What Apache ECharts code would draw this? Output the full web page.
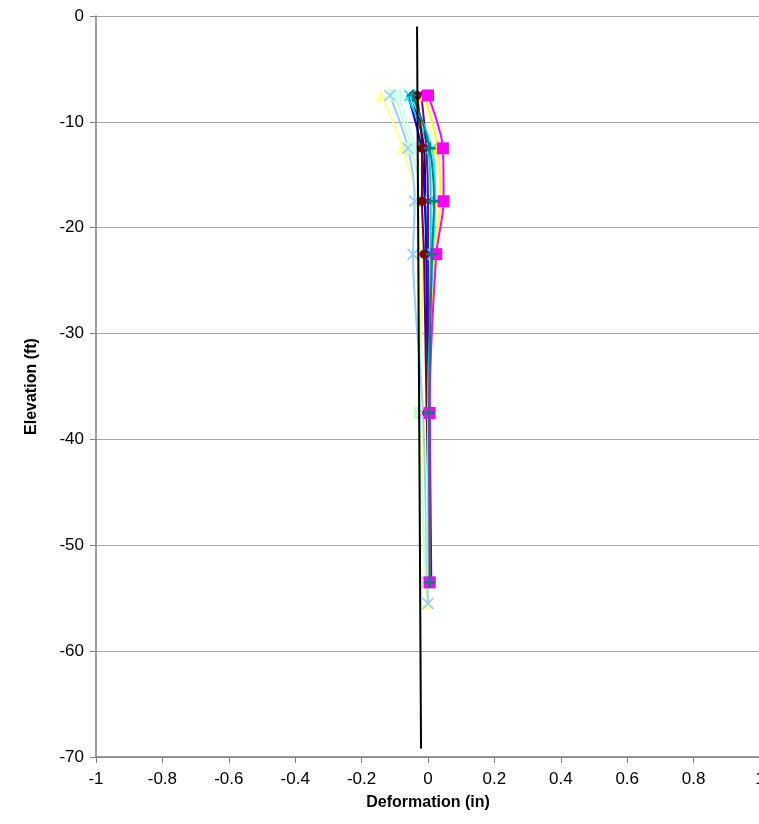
<!DOCTYPE html>
<html>
<head>
<meta charset="utf-8">
<script src="https://cdn.jsdelivr.net/npm/echarts@6/dist/echarts.min.js"></script>
<style>
html,body{margin:0;padding:0;background:#fff;}
#chart{width:759px;height:824px;}
</style>
</head>
<body>
<div id="chart"></div>
<script>
// Elevations (ft) of the readings
var depths = [-7.5, -12.5, -17.5, -22.5, -37.5, -53.5];
var depthsLong = [-7.5, -12.5, -17.5, -22.5, -37.5, -53.5, -55.5];
// Reference (initial) casing line
var refX = [-0.033, -0.021];
var refY = [-1, -69.2];
// Deformation (in) per reading
var s1 = [-0.05, -0.012, -0.008, -0.006, 0.0, 0.005];
var s2 = [0.0, 0.045, 0.047, 0.025, 0.005, 0.005];
var s3 = [-0.01, 0.03, 0.037, 0.022, 0.002, 0.0];
var s4 = [-0.055, 0.012, 0.022, 0.015, 0.0, 0.005];
var s5 = [-0.02, -0.005, 0.0, 0.0, 0.005, 0.01];
var s6 = [-0.033, -0.018, -0.018, -0.012, -0.004, 0.008];
var s7 = [-0.045, 0.005, 0.018, 0.012, 0.003, 0.005];
var s8 = [-0.06, -0.02, -0.01, -0.005, 0.0, 0.005];
var s9 = [-0.065, 0.0, 0.008, 0.008, 0.0, 0.0];
var s10 = [-0.09, -0.04, -0.01, -0.01, -0.005, 0.0];
var s11 = [-0.1, -0.05, -0.02, -0.015, -0.025, -0.005];
var s12 = [-0.14, -0.075, -0.035, -0.025, -0.02, -0.01, 0.0];
var s13 = [-0.115, -0.06, -0.04, -0.045, -0.015, -0.002, 0.0];

var X = 'path://M0,1L1,0L5,4L9,0L10,1L6,5L10,9L9,10L5,6L1,10L0,9L4,5Z';
var PLUS = 'path://M4,0H6V4H10V6H6V10H4V6H0V4H4Z';
var STAR = 'path://M0,1L1,0L4.3,3.3V0H5.7V3.3L9,0L10,1L6,5L10,9L9,10L5.7,6.7V10H4.3V6.7L1,10L0,9L4,5Z';

function pairs(xs, ys){ return xs.map(function(v,i){ return [v, ys[i]]; }); }

var defs = [
  {d:s1, y:depths, c:'#000080', s:'diamond', z:3, size:9},
  {d:s8, y:depths, c:'#0000FF', s:'none', z:4},
  {d:s9, y:depths, c:'#00CCFF', s:'none', z:4},
  {d:s11, y:depths, c:'#CCFFCC', s:'rect', z:2},
  {d:s10, y:depths, c:'#CCFFFF', s:'diamond', z:3},
  {d:s12, y:depthsLong, c:'#FFFF99', s:'triangle', z:1},
  {d:s13, y:depthsLong, c:'#99CCFF', s:X, z:2},
  {d:s6, y:depths, c:'#800000', s:'circle', z:6, size:9},
  {d:s4, y:depths, c:'#00FFFF', s:X, z:7},
  {d:s3, y:depths, c:'#FFFF00', s:'triangle', z:8},
  {d:s2, y:depths, c:'#FF00FF', s:'rect', z:8},
  {d:s7, y:depths, c:'#008080', s:PLUS, z:9},
  {d:s5, y:depths, c:'#800080', s:STAR, z:5, size:9}
];

var series = defs.map(function(o, i){
  return {
    type:'line', name:'R'+(i+1), data:pairs(o.d, o.y), smooth:0.3,
    symbol:o.s, symbolSize:(o.size || 12), showSymbol:true, z:o.z,
    lineStyle:{color:o.c, width:2}, itemStyle:{color:o.c},
    animation:false
  };
});
series.push({
  type:'line', name:'Initial', data:pairs(refX, refY), symbol:'none', z:20,
  lineStyle:{color:'#000000', width:2}, animation:false
});

var chart = echarts.init(document.getElementById('chart'));
chart.setOption({
  backgroundColor:'#ffffff',
  animation:false,
  textStyle:{fontFamily:'Liberation Sans, Arial, sans-serif'},
  grid:{left:96, top:16, width:664, height:741, containLabel:false, outerBoundsMode:'none'},
  xAxis:{
    type:'value', min:-1, max:1, interval:0.2,
    name:'Deformation (in)', nameLocation:'middle', nameGap:38,
    nameTextStyle:{fontSize:16, fontWeight:'bold', color:'#000', fontFamily:'Liberation Sans, Arial'},
    axisLine:{show:true, onZero:false, lineStyle:{color:'#808080', width:1.5}},
    axisTick:{show:true, inside:false, length:6, lineStyle:{color:'#808080'}},
    axisLabel:{fontSize:17, color:'#000', margin:14, formatter:function(v){return String(Math.round(v*10)/10);}},
    splitLine:{show:false}
  },
  yAxis:{
    type:'value', min:-70, max:0, interval:10,
    name:'Elevation (ft)', nameLocation:'middle', nameGap:56, nameRotate:90,
    nameTextStyle:{fontSize:16, fontWeight:'bold', color:'#000', fontFamily:'Liberation Sans, Arial'},
    axisLine:{show:true, onZero:false, lineStyle:{color:'#808080', width:1.5}},
    axisTick:{show:true, inside:false, length:6, lineStyle:{color:'#808080'}},
    axisLabel:{fontSize:17, color:'#000', margin:12},
    splitLine:{show:true, lineStyle:{color:'#a6a6a6', width:1}}
  },
  series:series
});
</script>
</body>
</html>
